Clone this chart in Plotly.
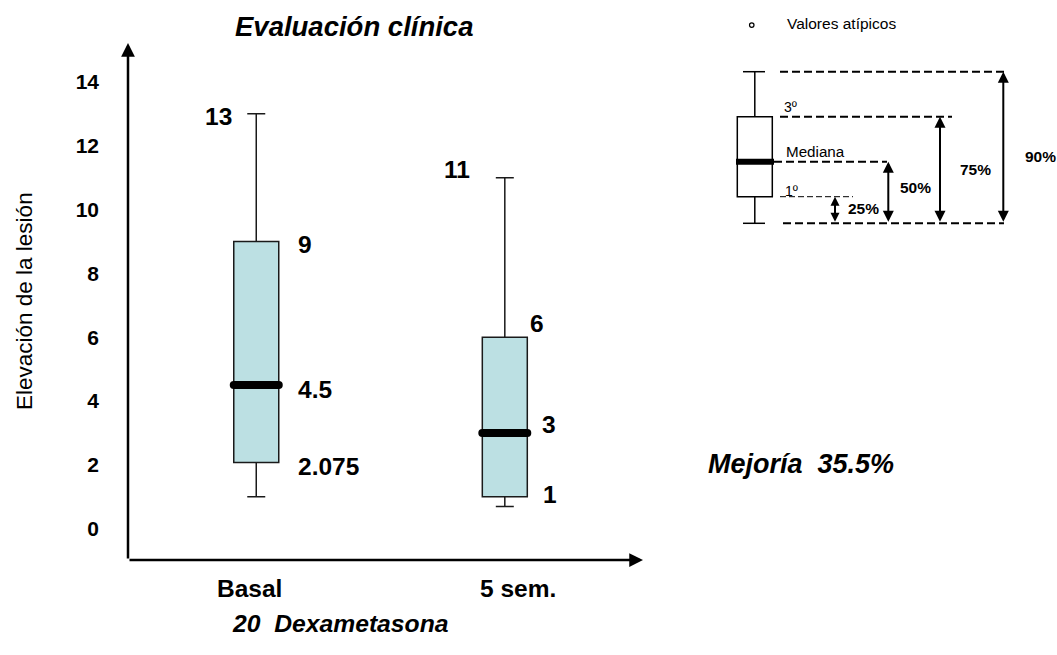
import plotly.graph_objects as go

# --- data -------------------------------------------------------------
categories = ["Basal", "5 sem."]
q1_vals = [2.075, 1.0]
median_vals = [4.5, 3.0]
q3_vals = [9.0, 6.0]
lower_vals = [1.0, 0.7]
upper_vals = [13.0, 11.0]
label_q1 = ["2.075", "1"]
label_median = ["4.5", "3"]
label_q3 = ["9", "6"]
label_upper = ["13", "11"]
y_ticks = [0, 2, 4, 6, 8, 10, 12, 14]

FONT = "Liberation Sans, Arial, sans-serif"
BOX_FILL = "#BCE0E3"
BOX_LINE = "#1a1a1a"
BOX_WIDTH = 0.181

W, H = 1057, 655
L, R, T, B = 128, 414, 43, 95
PW, PH = W - L - R, H - T - B


def px(x):
    """pixel column -> paper x"""
    return (x - L) / PW


def py(y):
    """pixel row -> paper y"""
    return (H - B - y) / PH


xpos = list(range(len(categories)))

fig = go.Figure()

for i, cat in enumerate(categories):
    fig.add_trace(go.Box(
        x=[xpos[i]], q1=[q1_vals[i]], median=[median_vals[i]], q3=[q3_vals[i]],
        lowerfence=[lower_vals[i]], upperfence=[upper_vals[i]],
        width=BOX_WIDTH, whiskerwidth=0.4, fillcolor=BOX_FILL,
        line=dict(color=BOX_LINE, width=1.5), boxpoints=False,
        hoverinfo="skip", showlegend=False, name=cat,
    ))
    # heavy median bar with rounded ends
    half = BOX_WIDTH / 2
    fig.add_trace(go.Scatter(
        x=[xpos[i] - half, xpos[i] + half], y=[median_vals[i]] * 2,
        mode="lines+markers", line=dict(color="black", width=8),
        marker=dict(color="black", size=8), hoverinfo="skip", showlegend=False,
    ))

annotations = []
val_font = dict(family=FONT, size=24.5, color="black")

# value labels on the boxes: (xshift, yshift, anchor) per category
offsets = {
    "upper": [(-22, -3, "right"), (-33, 8, "right")],
    "q3": [(40, -3, "left"), (23, 14, "left")],
    "median": [(40, -4, "left"), (35, 8, "left")],
    "q1": [(40, -4, "left"), (36, 2, "left")],
}
for i in xpos:
    for key, vals, texts in [("upper", upper_vals, label_upper), ("q3", q3_vals, label_q3),
                             ("median", median_vals, label_median), ("q1", q1_vals, label_q1)]:
        xs, ys, anc = offsets[key][i]
        annotations.append(dict(
            x=xpos[i], y=vals[i], xref="x", yref="y", text="<b>%s</b>" % texts[i],
            showarrow=False, xanchor=anc, yanchor="middle", xshift=xs, yshift=ys,
            font=val_font,
        ))

# category labels under the axis
cat_shift = [-7, 13]
for i, cat in enumerate(categories):
    annotations.append(dict(
        x=xpos[i], y=py(588), xref="x", yref="paper", text="<b>%s</b>" % cat,
        showarrow=False, xanchor="center", yanchor="middle", xshift=cat_shift[i],
        font=dict(family=FONT, size=24.5, color="black"),
    ))

# axis arrows
annotations.append(dict(x=0, y=1, xref="paper", yref="paper", ax=0, ay=PH, text="",
                        showarrow=True, arrowhead=2, arrowsize=1.1, arrowwidth=2.5,
                        arrowcolor="black", standoff=0, startstandoff=0))
annotations.append(dict(x=1, y=0, xref="paper", yref="paper", ax=-PW, ay=0, text="",
                        showarrow=True, arrowhead=2, arrowsize=1.1, arrowwidth=2.5,
                        arrowcolor="black", standoff=0, startstandoff=0))

# titles and notes
annotations += [
    dict(x=px(354), y=py(26), xref="paper", yref="paper", showarrow=False,
         xanchor="center", yanchor="middle",
         text="<b><i>Evaluación clínica</i></b>", font=dict(family=FONT, size=27.5, color="black")),
    dict(x=px(340), y=py(623), xref="paper", yref="paper", showarrow=False,
         xanchor="center", yanchor="middle",
         text="<b><i>20  Dexametasona</i></b>", font=dict(family=FONT, size=24.7, color="black")),
    dict(x=px(706), y=py(464), xref="paper", yref="paper", showarrow=False,
         xanchor="left", yanchor="middle",
         text="<b><i>Mejoría  35.5%</i></b>", font=dict(family=FONT, size=27, color="black")),
    dict(x=px(24), y=py(301), xref="paper", yref="paper", showarrow=False, textangle=-90,
         xanchor="center", yanchor="middle",
         text="Elevación de la lesión", font=dict(family=FONT, size=22.5, color="black")),
]

# ---- explanatory key (schematic box) ----
shapes = []
kx0, kx1, kxc = 737.3, 772.3, 754.8
k_top, k_q3, k_med, k_q1, k_bot = 71.7, 116.7, 161.7, 196.7, 223.3
line_k = dict(color="black", width=1.5)


def seg(x0, y0, x1, y1, **ln):
    shapes.append(dict(type="line", xref="paper", yref="paper",
                       x0=px(x0), y0=py(y0), x1=px(x1), y1=py(y1), line=ln))


seg(kxc, k_top, kxc, k_q3, **line_k)
seg(kxc, k_q1, kxc, k_bot, **line_k)
seg(743, k_top, 765, k_top, **line_k)
seg(743, k_bot, 765, k_bot, **line_k)
shapes.append(dict(type="rect", xref="paper", yref="paper", x0=px(kx0), x1=px(kx1),
                   y0=py(k_q1), y1=py(k_q3), line=line_k, fillcolor="white"))
seg(736, k_med, 774, k_med, color="black", width=6)

dash = "8px,4px"
seg(780, k_top, 1004, k_top, color="black", width=2, dash=dash)
seg(780, k_q3, 952, k_q3, color="black", width=2, dash=dash)
seg(774, k_med, 887, k_med, color="black", width=2, dash=dash)
seg(780, k_q1, 853, k_q1, color="black", width=1, dash="6px,3px")
seg(783, k_bot, 1004, k_bot, color="black", width=2, dash=dash)

# outlier symbol
shapes.append(dict(type="circle", xref="paper", yref="paper", x0=px(749.5), x1=px(754),
                   y0=py(22.8), y1=py(27.3), line=dict(color="black", width=1.2)))

for xa, ytop, asz in [(835, k_q1, 0.9), (888.3, k_med, 1.1), (940, k_q3, 1.1), (1003.3, k_top, 1.1)]:
    annotations.append(dict(x=px(xa), y=py(ytop), xref="paper", yref="paper",
                            ax=0, ay=k_bot - ytop, text="", showarrow=True,
                            arrowside="end+start", arrowhead=2, arrowsize=asz,
                            arrowwidth=2, arrowcolor="black", standoff=0, startstandoff=0))

key_txt = [
    (785, 24, "Valores atípicos", 15.5, False),
    (782, 107, "3º", 14, False),
    (784, 151, "Mediana", 15.2, False),
    (783, 191, "1º", 14, False),
    (846, 209, "25%", 15.5, True),
    (898, 187, "50%", 15.5, True),
    (958, 169, "75%", 15.5, True),
    (1023, 156, "90%", 15.5, True),
]
for x, y, t, s, bold in key_txt:
    annotations.append(dict(x=px(x), y=py(y), xref="paper", yref="paper", showarrow=False,
                            xanchor="left", yanchor="middle",
                            text="<b>%s</b>" % t if bold else t,
                            font=dict(family=FONT, size=s, color="black")))

fig.update_layout(
    width=W, height=H, margin=dict(l=L, r=R, t=T, b=B),
    paper_bgcolor="white", plot_bgcolor="white",
    showlegend=False, annotations=annotations, shapes=shapes,
    xaxis=dict(range=[-0.516, 1.556], tickvals=xpos, showticklabels=False,
               showgrid=False, zeroline=False, showline=False, ticks=""),
    yaxis=dict(range=[-0.98, 15.22], tickvals=y_ticks,
               ticktext=["<b>%d</b>" % v for v in y_ticks],
               tickfont=dict(family=FONT, size=21, color="black"),
               showgrid=False, zeroline=False, showline=False, ticks="",
               ticklabelstandoff=28),
)

fig.write_html("out.html")
